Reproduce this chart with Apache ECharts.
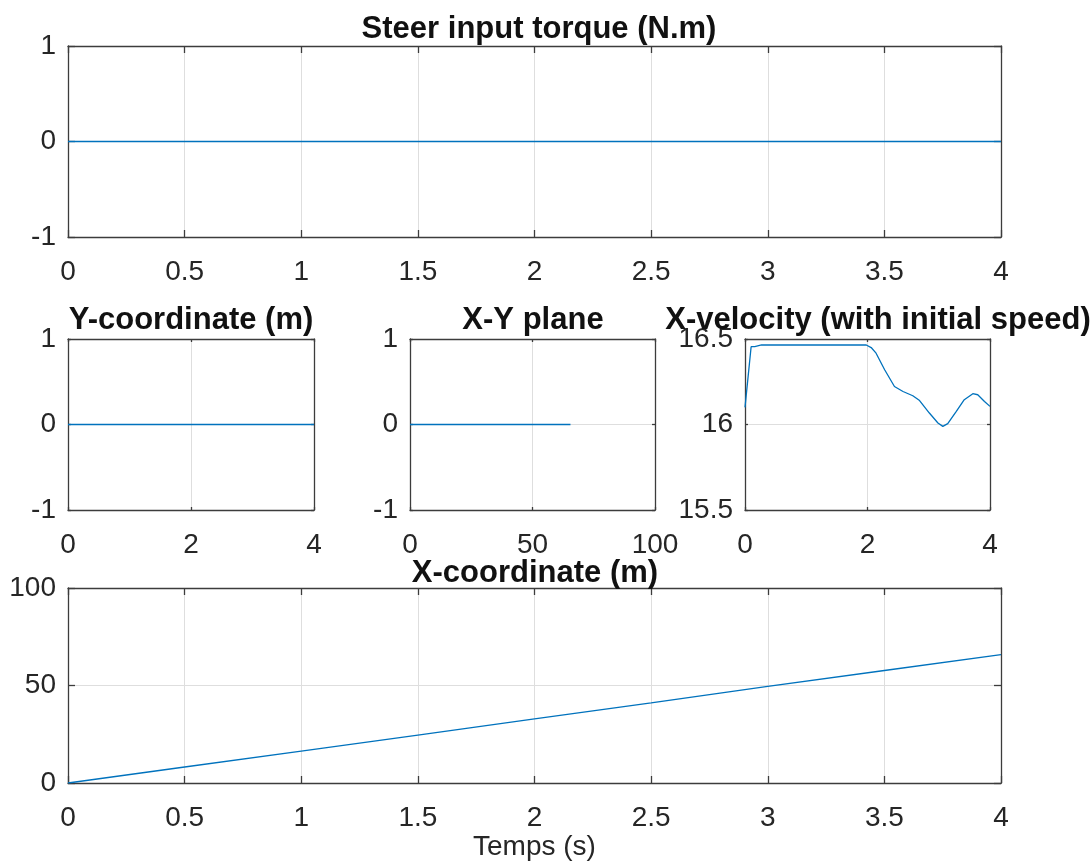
<!DOCTYPE html>
<html>
<head>
<meta charset="utf-8">
<title>Vehicle simulation</title>
<script src="https://cdn.jsdelivr.net/npm/echarts@6/dist/echarts.min.js"></script>
<style>
  html, body { margin: 0; padding: 0; background: #ffffff; }
  #chart { width: 1092px; height: 868px; }
</style>
</head>
<body>
<div id="chart"></div>
<script>
// Steer input torque (N.m) over time
const torqueTime = [0, 4];
const torqueValues = [0, 0];

// Lateral position (m) over time
const yCoordTime = [0, 4];
const yCoordValues = [0, 0];

// Trajectory in the X-Y plane
const planeX = [0, 65.5];
const planeY = [0, 0];

// Longitudinal velocity including initial speed (m/s)
const velocityTime = [0, 0.1, 0.16, 0.27, 1.0, 1.98, 2.06, 2.14, 2.28, 2.44, 2.58, 2.74, 2.85,
  3.01, 3.15, 3.23, 3.31, 3.45, 3.58, 3.72, 3.80, 3.91, 4.0];
const velocityValues = [16.10, 16.455, 16.455, 16.465, 16.465, 16.465, 16.45, 16.417, 16.32,
  16.222, 16.193, 16.168, 16.14, 16.067, 16.009, 15.989, 16.005, 16.077, 16.145, 16.18,
  16.174, 16.135, 16.106];

// Longitudinal position (m) over time
const xCoordTime = [0, 0.5, 1, 1.5, 2, 2.5, 3, 3.5, 4];
const xCoordValues = [0, 8.2, 16.4, 24.6, 32.9, 41.1, 49.6, 57.7, 65.8];

// Panel titles and axis name
const panelTitles = ['Steer input torque (N.m)', 'Y-coordinate (m)', 'X-Y plane',
  'X-velocity (with initial speed)', 'X-coordinate (m)'];
const timeAxisName = 'Temps (s)';

const FONT = '"Liberation Sans", Arial, Helvetica, sans-serif';
const INK = '#262626';
const FRAME = '#3c3c3c';
const GRIDLINE = '#dedede';
const LINE = '#0072BD';

const grids = [
  { left: 68, top: 46, width: 933, height: 191 },
  { left: 68, top: 339, width: 246, height: 171 },
  { left: 410, top: 339, width: 245, height: 171 },
  { left: 745, top: 339, width: 245, height: 171 },
  { left: 68, top: 588, width: 933, height: 195 }
];

// axis ranges per panel: [xmin, xmax, xstep, ymin, ymax, ystep, tickLength]
const ranges = [
  [0, 4, 0.5, -1, 1, 1, 7],
  [0, 4, 2, -1, 1, 1, 3],
  [0, 100, 50, -1, 1, 1, 3],
  [0, 4, 2, 15.5, 16.5, 0.5, 3],
  [0, 4, 0.5, 0, 100, 50, 7]
];

const xAxes = [];
const yAxes = [];
ranges.forEach(function (r, i) {
  const common = function (min, max, step, tickLen) {
    return {
      type: 'value',
      gridIndex: i,
      min: min,
      max: max,
      interval: step,
      axisLine: { show: true, onZero: false, lineStyle: { color: FRAME, width: 1.3 } },
      axisTick: { show: true, inside: true, length: tickLen, lineStyle: { color: FRAME, width: 1.3 } }
    };
  };
  const xb = common(r[0], r[1], r[2], r[6]);
  xb.position = 'bottom';
  xb.splitLine = { show: true, lineStyle: { color: GRIDLINE, width: 1 } };
  xb.axisLabel = { show: true, color: INK, fontSize: 28, fontFamily: FONT, margin: 21 };
  if (i === 4) {
    xb.name = timeAxisName;
    xb.nameLocation = 'middle';
    xb.nameGap = 50;
    xb.nameTextStyle = { color: INK, fontSize: 28, fontFamily: FONT };
  }
  const xt = common(r[0], r[1], r[2], r[6]);
  xt.position = 'top';
  xt.splitLine = { show: false };
  xt.axisLabel = { show: false };

  const yl = common(r[3], r[4], r[5], r[6]);
  yl.position = 'left';
  yl.splitLine = { show: true, lineStyle: { color: GRIDLINE, width: 1 } };
  yl.axisLabel = { show: true, color: INK, fontSize: 28, fontFamily: FONT, margin: 12 };
  const yr = common(r[3], r[4], r[5], r[6]);
  yr.position = 'right';
  yr.splitLine = { show: false };
  yr.axisLabel = { show: false };

  xAxes.push(xb, xt);
  yAxes.push(yl, yr);
});

function pairs(xs, ys) {
  return xs.map(function (x, k) { return [x, ys[k]]; });
}

const seriesData = [
  pairs(torqueTime, torqueValues),
  pairs(yCoordTime, yCoordValues),
  pairs(planeX, planeY),
  pairs(velocityTime, velocityValues),
  pairs(xCoordTime, xCoordValues)
];

const series = seriesData.map(function (d, i) {
  return {
    type: 'line',
    xAxisIndex: 2 * i,
    yAxisIndex: 2 * i,
    data: d,
    showSymbol: false,
    symbol: 'none',
    clip: true,
    silent: true,
    z: 5,
    lineStyle: { color: LINE, width: 1.3 }
  };
});

// title anchor points (centre x, middle y)
const titlePos = [[539, 29], [191, 320], [533, 320], [878, 320], [535, 573]];
const titles = panelTitles.map(function (t, i) {
  return {
    text: t,
    left: titlePos[i][0],
    top: titlePos[i][1],
    textAlign: 'center',
    textVerticalAlign: 'middle',
    padding: 0,
    textStyle: { color: '#111111', fontSize: 31, fontWeight: 'bold', fontFamily: FONT }
  };
});

const chart = echarts.init(document.getElementById('chart'), null, { renderer: 'canvas' });
chart.setOption({
  backgroundColor: '#ffffff',
  animation: false,
  title: titles,
  grid: grids,
  xAxis: xAxes,
  yAxis: yAxes,
  series: series
});
</script>
</body>
</html>
